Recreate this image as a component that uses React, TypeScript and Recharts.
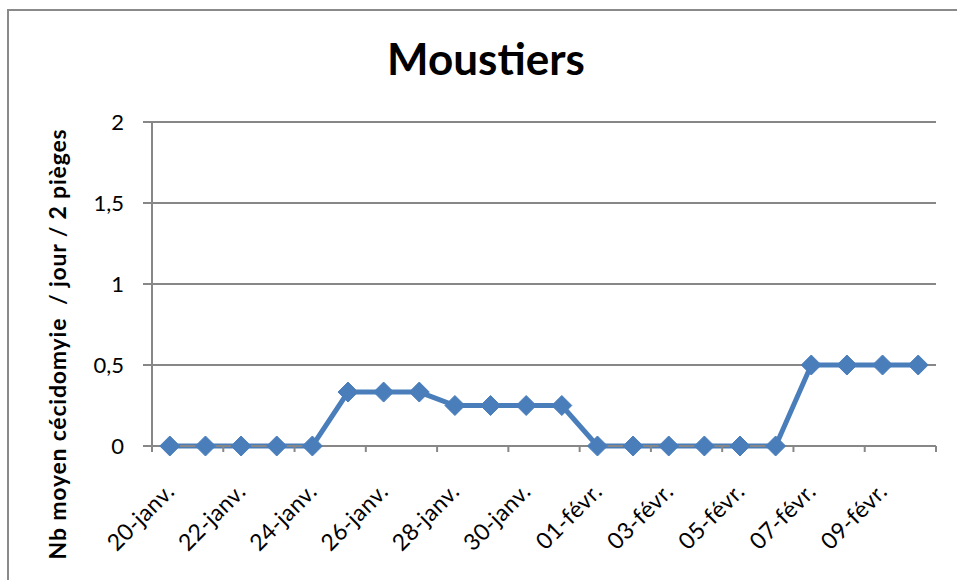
import React from 'react';
import { LineChart, Line, XAxis, YAxis, CartesianGrid } from 'recharts';

const dates = [
  '20-janv.', '21-janv.', '22-janv.', '23-janv.', '24-janv.', '25-janv.', '26-janv.', '27-janv.',
  '28-janv.', '29-janv.', '30-janv.', '31-janv.', '01-févr.', '02-févr.', '03-févr.', '04-févr.',
  '05-févr.', '06-févr.', '07-févr.', '08-févr.', '09-févr.', '10-févr.',
];
const values = [
  0, 0, 0, 0, 0, 0.333, 0.333, 0.333, 0.25, 0.25, 0.25, 0.25,
  0, 0, 0, 0, 0, 0, 0.5, 0.5, 0.5, 0.5,
];
const yTicks = [0, 0.5, 1, 1.5, 2];
const title = 'Moustiers';
const yTitle = 'Nb moyen cécidomyie  / jour / 2 pièges';

const data = dates.map((d, i) => ({ date: d, v: values[i] }));

const W = 957;
const H = 580;
const M = { top: 122, right: 21, left: 0, bottom: 0 };
const Y_W = 152;
const X_H = 134;
const plotW = W - M.left - M.right - Y_W;
const halfBand = plotW / dates.length / 2;
const FONT = 'Lato, "Open Sans", sans-serif';
const GRID = '#878787';
const BLUE = '#4A7EBB';

const XTick = (props: any) => {
  const { x, y, payload } = props;
  const isLast = payload.index === dates.length - 2;
  const tx = x + 6;
  const ty = y + 47;
  return (
    <g>
      <line x1={x - halfBand} y1={y} x2={x - halfBand} y2={y + 6} stroke={GRID} strokeWidth={2} />
      {isLast && (
        <line x1={x + 3 * halfBand} y1={y} x2={x + 3 * halfBand} y2={y + 6} stroke={GRID} strokeWidth={2} />
      )}
      <text
        x={tx}
        y={ty}
        textAnchor="end"
        transform={`rotate(-45, ${tx}, ${ty})`}
        fontFamily={FONT}
        fontSize={23}
        letterSpacing={0.3}
        fill="#000"
      >
        {payload.value}
      </text>
    </g>
  );
};

const Diamond = (props: any) => {
  const { cx, cy } = props;
  if (cx == null || cy == null) return null;
  const r = 10;
  return (
    <polygon
      points={`${cx},${cy - r} ${cx + r},${cy} ${cx},${cy + r} ${cx - r},${cy}`}
      fill={BLUE}
      stroke={BLUE}
      strokeWidth={1}
    />
  );
};

const YTitle = () => {
  const cx = 66;
  const cy = 344;
  return (
    <text
      x={cx}
      y={cy}
      textAnchor="middle"
      transform={`rotate(-90, ${cx}, ${cy})`}
      fontFamily={FONT}
      fontWeight="bold"
      fontSize={23}
      letterSpacing={0.8}
      fill="#000"
      style={{ whiteSpace: 'pre' }}
    >
      {yTitle}
    </text>
  );
};

export default function App() {
  return (
    <div style={{ position: 'absolute', left: 0, top: 0, width: W, height: H, overflow: 'hidden', background: '#fff' }}>
      <div
        style={{
          position: 'absolute',
          left: 7,
          top: 9,
          width: 1100,
          height: 800,
          border: '2px solid #8a8a8a',
          boxSizing: 'border-box',
        }}
      />
      <div style={{ position: 'absolute', left: 0, top: 0 }}>
        <LineChart width={W} height={H} data={data} margin={M}>
          <CartesianGrid vertical={false} stroke={GRID} strokeWidth={2} />
          <XAxis
            dataKey="date"
            interval={1}
            height={X_H}
            padding={{ left: halfBand, right: halfBand }}
            axisLine={{ stroke: GRID, strokeWidth: 2 }}
            tickLine={false}
            tickSize={0}
            tickMargin={0}
            tick={<XTick />}
          />
          <YAxis
            domain={[0, 2]}
            ticks={yTicks}
            width={Y_W}
            axisLine={{ stroke: GRID, strokeWidth: 2 }}
            tickLine={{ stroke: GRID, strokeWidth: 2 }}
            tickSize={9}
            tickMargin={19}
            tickFormatter={(v: number) => String(v).replace('.', ',')}
            tick={{ fontFamily: FONT, fontSize: 22, fill: '#000' }}
            label={<YTitle />}
          />
          <Line
            type="linear"
            dataKey="v"
            stroke={BLUE}
            strokeWidth={5}
            dot={<Diamond />}
            activeDot={false}
            isAnimationActive={false}
          />
        </LineChart>
      </div>
      <svg width={W} height={100} style={{ position: 'absolute', left: 0, top: 0 }}>
        <text x={486} y={75} textAnchor="middle" fontFamily={FONT} fontWeight="bold" fontSize={44} fill="#000">
          {title}
        </text>
      </svg>
    </div>
  );
}
